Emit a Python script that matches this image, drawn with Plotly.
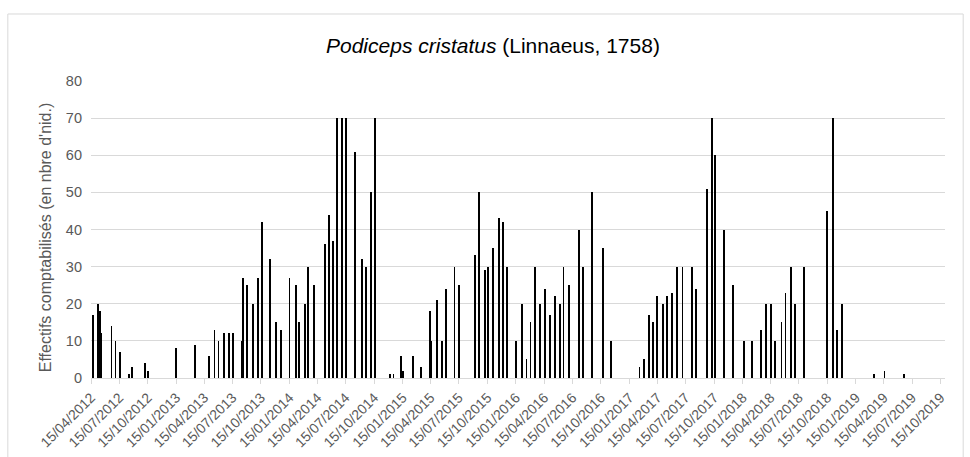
import plotly.graph_objects as go

# Survey dates and counts
dates = [
    "2012-04-21", "2012-05-07", "2012-05-14", "2012-05-18", "2012-06-20", "2012-07-03",
    "2012-07-17", "2012-08-16", "2012-08-26", "2012-10-05", "2012-10-17", "2013-01-15",
    "2013-03-16", "2013-05-01", "2013-05-18", "2013-05-31", "2013-06-17", "2013-07-04",
    "2013-07-16", "2013-08-16", "2013-08-19", "2013-08-30", "2013-09-18", "2013-10-05",
    "2013-10-18", "2013-11-13", "2013-12-03", "2013-12-19", "2014-01-15", "2014-02-05",
    "2014-02-14", "2014-03-06", "2014-03-15", "2014-04-05", "2014-05-08", "2014-05-22",
    "2014-06-04", "2014-06-16", "2014-07-03", "2014-07-16", "2014-08-15", "2014-09-05",
    "2014-09-18", "2014-10-04", "2014-10-18", "2014-12-06", "2014-12-16", "2015-01-09",
    "2015-01-15", "2015-02-17", "2015-03-16", "2015-04-12", "2015-04-17", "2015-05-05",
    "2015-05-21", "2015-06-04", "2015-07-01", "2015-07-16", "2015-09-05", "2015-09-18",
    "2015-10-07", "2015-10-18", "2015-11-03", "2015-11-20", "2015-12-04", "2015-12-16",
    "2016-01-15", "2016-02-04", "2016-02-18", "2016-03-02", "2016-03-16", "2016-04-01",
    "2016-04-17", "2016-05-03", "2016-05-20", "2016-06-05", "2016-06-16", "2016-07-03",
    "2016-08-04", "2016-08-18", "2016-09-17", "2016-10-21", "2016-11-16", "2017-02-16",
    "2017-03-02", "2017-03-18", "2017-03-31", "2017-04-14", "2017-05-03", "2017-05-17",
    "2017-06-02", "2017-06-16", "2017-07-05", "2017-08-04", "2017-08-18", "2017-09-21",
    "2017-10-07", "2017-10-17", "2017-11-16", "2017-12-15", "2018-01-18", "2018-02-14",
    "2018-03-15", "2018-03-31", "2018-04-17", "2018-04-30", "2018-05-20", "2018-06-02",
    "2018-06-19", "2018-07-02", "2018-08-01", "2018-10-14", "2018-11-02", "2018-11-16",
    "2018-12-02", "2019-03-15", "2019-04-17", "2019-06-18",
]
counts = [
    17, 20, 18, 12, 14, 10,
    7, 1, 3, 4, 2, 8,
    9, 6, 13, 10, 12, 12,
    12, 10, 27, 25, 20, 27,
    42, 32, 15, 13, 27, 25,
    15, 20, 30, 25, 36, 44,
    37, 70, 70, 70, 61, 32,
    30, 50, 70, 1, 1, 6,
    2, 6, 3, 18, 10, 21,
    10, 24, 30, 25, 33, 50,
    29, 30, 35, 43, 42, 30,
    10, 20, 5, 15, 30, 20,
    24, 17, 22, 20, 30, 25,
    40, 30, 50, 35, 10, 3,
    5, 17, 15, 22, 20, 22,
    23, 30, 30, 30, 24, 51,
    70, 60, 40, 25, 10, 10,
    13, 20, 20, 10, 15, 23,
    30, 20, 30, 45, 70, 13,
    20, 1, 2, 1,
]

tick_dates = []
for yr in range(2012, 2020):
    for mo in (1, 4, 7, 10):
        d = f"{yr}-{mo:02d}-15"
        if "2012-04-15" <= d <= "2019-10-15":
            tick_dates.append(d)
tick_labels = [f"{d[8:10]}/{d[5:7]}/{d[0:4]}" for d in tick_dates]

title_text = "<i>Podiceps cristatus</i> (Linnaeus, 1758)"
ytitle_text = "Effectifs comptabilisés (en nbre d'nid.)"

fig = go.Figure()
fig.add_trace(go.Bar(
    x=dates, y=counts,
    width=[2.8 * 86400000] * len(dates),
    marker=dict(color="#000000", line=dict(width=0)),
))

fig.update_layout(
    width=970, height=457,
    margin=dict(l=90.7, r=25, t=81, b=79),
    paper_bgcolor="white", plot_bgcolor="white",
    showlegend=False,
    font=dict(family="Liberation Sans, Arial, sans-serif", color="#595959"),
    bargap=0,
)
fig.update_xaxes(
    type="date",
    range=["2012-04-15", "2019-10-29"],
    tickvals=tick_dates, ticktext=tick_labels,
    tickangle=-45,
    tickfont=dict(size=14, color="#595959"),
    showgrid=False,
    showline=True, linecolor="#d9d9d9", linewidth=1,
    ticks="outside", ticklen=5, tickcolor="#d9d9d9",
    zeroline=False, automargin=False,
)
fig.update_yaxes(
    range=[0, 80], dtick=10,
    tickfont=dict(size=14.5, color="#595959"),
    showgrid=True, gridcolor="#d9d9d9", gridwidth=1,
    zeroline=False, showline=False,
    ticks="", ticklabelstandoff=8, automargin=False,
)
fig.add_annotation(
    text=title_text, xref="paper", yref="paper", x=0.471, y=1.121,
    showarrow=False, font=dict(size=21, color="#000000"),
    xanchor="center", yanchor="middle",
)
fig.add_annotation(
    text=ytitle_text, xref="paper", yref="paper", x=-0.0523, y=0.475,
    showarrow=False, textangle=-90, font=dict(size=16, color="#595959"),
    xanchor="center", yanchor="middle",
)
fig.add_shape(
    type="rect", xref="paper", yref="paper",
    x0=-0.0974, x1=1.0213, y0=-0.35, y1=1.2256,
    line=dict(color="#d9d9d9", width=1), fillcolor="rgba(0,0,0,0)", layer="below",
)

fig.write_html(
    "out.html",
    config={"displayModeBar": False},
    post_script="document.body.style.margin='0';document.body.style.overflow='hidden';",
)
